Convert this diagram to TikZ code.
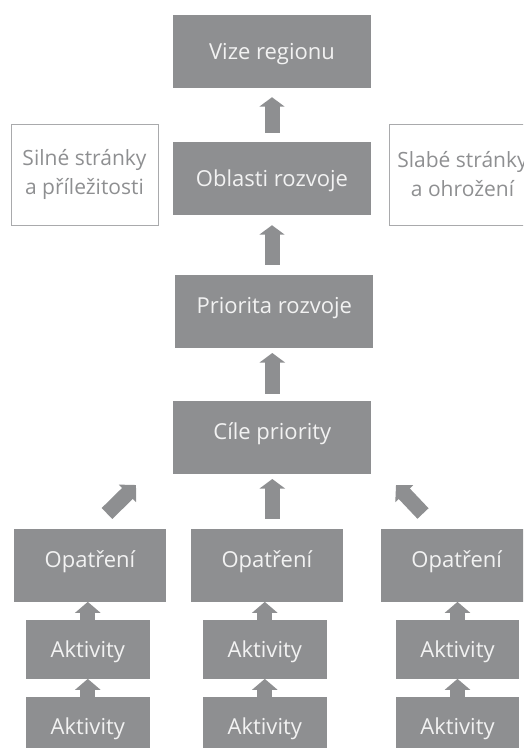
\documentclass[tikz,border=0pt]{standalone}
\usepackage{fontspec}
\setmainfont{Open Sans}
\usetikzlibrary{arrows.meta}
\definecolor{boxgray}{HTML}{8E8F91}
\definecolor{boxtext}{HTML}{F2F2F2}
\definecolor{framegray}{HTML}{A9AAAC}
\begin{document}
\begin{tikzpicture}[x=1pt,y=-1pt,
  gbox/.style={fill=boxgray, text=boxtext, inner sep=0pt,
    font=\fontsize{22}{26}\selectfont, text height=16pt, text depth=0pt},
  raised/.style={text height=16pt, text depth=12pt},
  topw/.style={minimum width=198pt, minimum height=73pt},
  opw/.style={minimum width=152pt, minimum height=72.7pt},
  akw/.style={minimum width=123.7pt, minimum height=58.7pt},
  wbox/.style={draw=framegray, line width=0.8pt, text=boxgray, align=center,
    font=\fontsize{21}{29}\selectfont, inner sep=0pt,
    minimum width=147pt, minimum height=101pt},
  bigarrow/.style={draw=boxgray, line width=15pt, -{Triangle[width=25pt,length=9.5pt]}},
  diagarrow/.style={draw=boxgray, line width=15.3pt, -{Triangle[width=24pt,length=12pt]}},
  smallarrow/.style={draw=boxgray, line width=15.3pt, -{Triangle[width=25pt,length=11pt]}},
]
\useasboundingbox (0,0) rectangle (523,748);
\begin{scope}
\clip (0,0) rectangle (523,748);
% top column
\node[gbox, topw] (vize) at (272,51.5) {Vize regionu};
\node[gbox, topw] (obl) at (272,178.5) {Oblasti rozvoje};
\node[gbox, topw, raised] (prio) at (274.3,311.3) {Priorita rozvoje};
\node[gbox, topw, raised] (cile) at (272.3,437.3) {Cíle priority};
% side boxes
\node[wbox] (silne) at (84.5,174.5) {Silné stránky\\a příležitosti};
\node[wbox] (slabe) at (462.5,174.5) {Slabé stránky\\a ohrožení};
% measures
\node[gbox, opw, raised] (op1) at (90,565.3) {Opatření};
\node[gbox, opw, raised] (op2) at (266.8,565.3) {Opatření};
\node[gbox, opw, raised] (op3) at (456.7,565.3) {Opatření};
% activities
\node[gbox, akw] (a1) at (87.8,649.3) {Aktivity};
\node[gbox, akw] (a2) at (264.8,649.3) {Aktivity};
\node[gbox, akw] (a3) at (457.5,649.3) {Aktivity};
\node[gbox, akw] (b1) at (87.8,726.3) {Aktivity};
\node[gbox, akw] (b2) at (264.8,726.3) {Aktivity};
\node[gbox, akw] (b3) at (457.5,726.3) {Aktivity};
% big arrows
\draw[bigarrow, shorten <=9pt, shorten >=9pt] (obl.north) -- (vize.south);
\draw[bigarrow, shorten <=10pt, shorten >=10pt] (prio.north -| obl.south) -- (obl.south);
\draw[bigarrow, shorten <=7pt, shorten >=5pt] (cile.north) -- (cile.north |- prio.south);
\draw[bigarrow, shorten <=10pt, shorten >=5pt] (op2.north -| cile.south) -- (cile.south);
% diagonal arrows
\coordinate (l0) at (107,513.5);
\coordinate (l1) at (136,485);
\coordinate (r0) at (423,513.5);
\coordinate (r1) at (396,485);
\draw[diagarrow] (l0) -- (l1);
\draw[diagarrow] (r0) -- (r1);
% small arrows
\foreach \o/\a/\b in {op1/a1/b1, op2/a2/b2, op3/a3/b3}{
  \draw[smallarrow] (\a.north) -- (\a.north |- \o.south);
  \draw[smallarrow] (\b.north) -- (\b.north |- \a.south);
}
\end{scope}
\end{tikzpicture}
\end{document}
